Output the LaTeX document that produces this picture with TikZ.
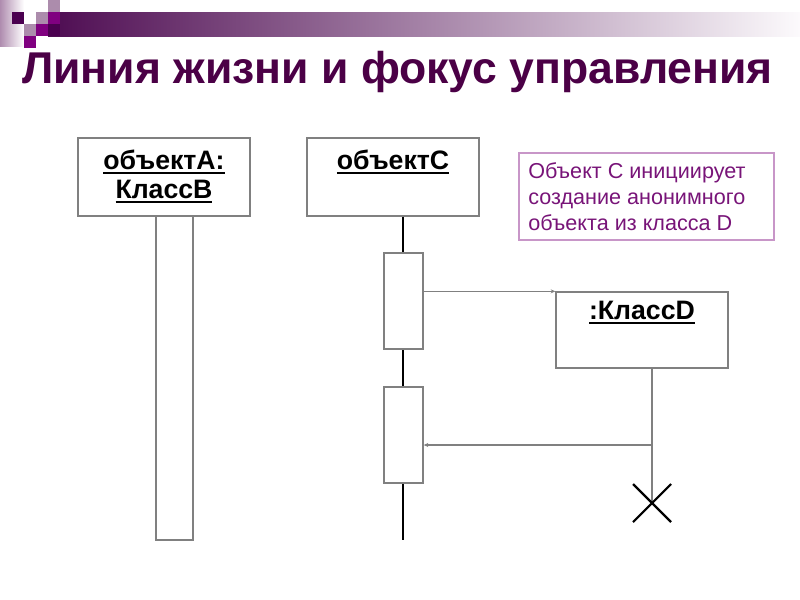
\documentclass[tikz,border=0pt]{standalone}
\usepackage{fontspec}
\setmainfont{Liberation Sans}
\newcommand{\myul}[1]{\leavevmode\setbox0=\hbox{#1}\rlap{\rule[-3.6pt]{\wd0}{1.5pt}}\box0}
\usetikzlibrary{arrows.meta,fit}
\definecolor{titlepurple}{RGB}{75,0,70}
\definecolor{barpurple}{RGB}{78,12,82}
\definecolor{barmid}{RGB}{146,110,148}
\definecolor{barend}{RGB}{252,250,252}
\definecolor{magentasq}{RGB}{128,0,128}
\definecolor{lightsq}{RGB}{172,140,172}
\definecolor{darksq}{RGB}{75,0,80}
\definecolor{stripcol}{RGB}{175,140,175}
\definecolor{notetext}{RGB}{120,20,120}
\definecolor{noteborder}{RGB}{200,150,200}
\definecolor{boxgray}{RGB}{128,128,128}
\tikzset{
  objbox/.style={draw=boxgray, line width=1pt, inner sep=0pt},
  actbox/.style={draw=boxgray, line width=1pt, fill=white, inner sep=0pt},
  notebox/.style={draw=noteborder, line width=1pt, inner sep=0pt},
  lbl/.style={font=\fontsize{20}{23}\bfseries\selectfont, anchor=base, inner sep=0pt},
  notelbl/.style={font=\fontsize{16.2}{19}\selectfont, text=notetext, anchor=base west, inner sep=0pt},
  lifeline/.style={draw=black, line width=1.1pt},
  msg/.style={draw=boxgray, line width=1pt, -{Stealth[length=3.5pt,width=3pt]}},
  crossline/.style={draw=black, line width=1.6pt},
}
\begin{document}
\begin{tikzpicture}[x=0.75pt,y=-0.75pt]
\useasboundingbox (0,0) rectangle (800,600);
% decoration
\shade[left color=stripcol, right color=white] (0,0) rectangle (24,46);
\shade[left color=barpurple, middle color=barmid, right color=barend] (48,12) rectangle (800,36);
\fill[darksq] (12,12) rectangle (24,24);
\fill[lightsq] (48,0) rectangle (60,12);
\fill[lightsq] (36,12) rectangle (48,24);
\fill[magentasq] (48,12) rectangle (60,24);
\fill[lightsq] (24,24) rectangle (36,36);
\fill[magentasq] (36,24) rectangle (48,36);
\fill[darksq] (48,24) rectangle (60,36);
\fill[magentasq] (24,36) rectangle (36,48);
% title
\node[anchor=base west, inner sep=0pt, text=titlepurple, font=\fontsize{33.4}{40}\bfseries\selectfont] (title) at (22,83) {Линия жизни и фокус управления};
% object A
\node[objbox, fit={(78,138) (250,216)}] (A) {};
\node[lbl] (Alab1) at (164,169) {\myul{объектA:}};
\node[lbl] (Alab2) at (164,198) {\myul{КлассB}};
\node[actbox, fit={(156,216) (193,540)}] (Aact) {};
% object C
\node[objbox, fit={(307,138) (479,216)}] (C) {};
\node[lbl] (Clab) at (393,169) {\myul{объектC}};
\coordinate (Cend) at (403,540);
\draw[lifeline] (C.south -| Cend) -- (Cend);
\node[actbox, fit={(384,253) (423,349)}] (act1) {};
\node[actbox, fit={(384,387) (423,483)}] (act2) {};
% object D
\node[objbox, fit={(556,292) (728,368)}] (D) {};
\node[lbl] (Dlab) at (642,319) {\myul{:КлассD}};
\coordinate (Dtop) at (652,368);
\coordinate (Xc) at (652,503);
\coordinate (ret) at (652,445);
\draw[lifeline, draw=boxgray] (Dtop) -- (Xc);
\draw[crossline] (Xc) +(-19,-19) -- +(19,19);
\draw[crossline] (Xc) +(-19,19) -- +(19,-19);
% messages
\draw[msg] (act1.east |- D.north west) -- (D.north west);
\draw[msg] (ret) -- (act2.east |- ret);
% note
\node[notebox, fit={(519,153) (774,240)}] (note) {};
\node[notelbl] (n1) at (528,178) {Объект С инициирует};
\node[notelbl] (n2) at (528,204) {создание анонимного};
\node[notelbl] (n3) at (528,230) {объекта из класса D};
\end{tikzpicture}
\end{document}
